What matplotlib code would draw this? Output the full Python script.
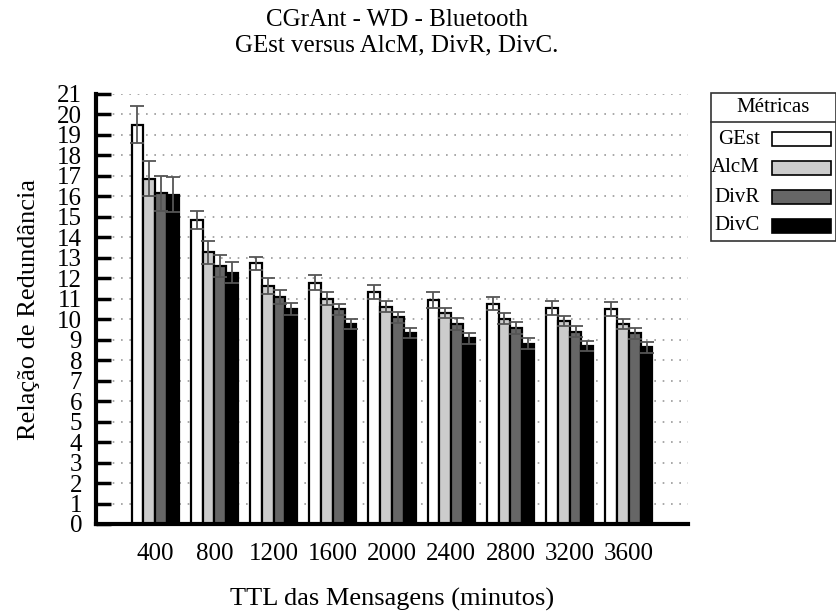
import numpy as np
import matplotlib
matplotlib.use("Agg")
import matplotlib.pyplot as plt
from matplotlib.patches import Rectangle
from matplotlib.lines import Line2D

plt.rcParams['font.family'] = ['Liberation Serif', 'DejaVu Serif']

ttl = ['400', '800', '1200', '1600', '2000', '2400', '2800', '3200', '3600']
metrics = ['GEst', 'AlcM', 'DivR', 'DivC']

gest = [19.50, 14.85, 12.73, 11.78, 11.32, 10.94, 10.76, 10.56, 10.50]
gest_err = [0.90, 0.45, 0.33, 0.37, 0.34, 0.37, 0.32, 0.33, 0.32]
alcm = [16.86, 13.26, 11.62, 11.00, 10.61, 10.30, 10.03, 9.91, 9.77]
alcm_err = [0.85, 0.55, 0.40, 0.32, 0.28, 0.26, 0.27, 0.26, 0.26]
divr = [16.16, 12.60, 11.10, 10.48, 10.09, 9.77, 9.57, 9.40, 9.31]
divr_err = [0.85, 0.55, 0.35, 0.28, 0.28, 0.29, 0.28, 0.26, 0.28]
divc = [16.09, 12.28, 10.51, 9.77, 9.33, 9.07, 8.80, 8.68, 8.62]
divc_err = [0.85, 0.50, 0.30, 0.26, 0.26, 0.26, 0.27, 0.25, 0.26]

series = [gest, alcm, divr, divc]
errors = [gest_err, alcm_err, divr_err, divc_err]
colors = ['white', '#cccccc', '#666666', 'black']

W, H = 837, 615
fig = plt.figure(figsize=(W / 100, H / 100), dpi=100)
ax = fig.add_axes([96 / W, (H - 524) / H, (688 - 96) / W, (524 - 94) / H])

x = np.arange(1, len(ttl) + 1)
bw = 0.2
for i, (vals, errs, c) in enumerate(zip(series, errors, colors)):
    pos = x + (i - 1.5) * bw
    ax.bar(pos, vals, width=bw, color=c, edgecolor='black', linewidth=1.6, zorder=2)
    ax.errorbar(pos, vals, yerr=errs, fmt='none', ecolor='#555555',
                elinewidth=1.3, capsize=5, capthick=1.3, zorder=3)

ax.set_xlim(0, 10)
ax.set_ylim(0, 21)
ax.set_yticks(range(0, 22))
ax.set_xticks(x)
ax.set_xticklabels(ttl)
ax.yaxis.grid(True, linestyle=(0, (1, 4)), color='#999999', linewidth=1.2, zorder=0)
ax.set_axisbelow(True)

for s in ['top', 'right']:
    ax.spines[s].set_visible(False)
ax.spines['left'].set_linewidth(3)
ax.spines['bottom'].set_linewidth(3)
ax.tick_params(axis='y', direction='in', length=11, width=2.5, labelsize=18, pad=10)
ax.tick_params(axis='x', length=0, labelsize=18, pad=14)

ax.set_xlabel('TTL das Mensagens (minutos)', fontsize=19, labelpad=16)
ax.set_ylabel('Relação de Redundância', fontsize=19, labelpad=12)

cx = 397 / W
fig.text(cx, 1 - 20 / H, 'CGrAnt - WD - Bluetooth', ha='center', va='center', fontsize=18)
fig.text(cx, 1 - 45 / H, 'GEst versus AlcM, DivR, DivC.', ha='center', va='center', fontsize=18)

# legend box drawn in figure pixels
def px(xp, yp):
    return xp / W, 1 - yp / H

lx0, lx1, ly0, ly1 = 711, 836, 93, 241
fig.add_artist(Rectangle(px(lx0, ly1), (lx1 - lx0) / W, (ly1 - ly0) / H,
                         transform=fig.transFigure, fill=False, edgecolor='#333333', linewidth=1.2))
fig.add_artist(Line2D([lx0 / W, lx1 / W], [1 - 122 / H, 1 - 122 / H],
                      transform=fig.transFigure, color='#333333', linewidth=1.2))
fig.text(*px((lx0 + lx1) / 2, 108), 'Métricas', ha='center', va='center', fontsize=15)
for name, c, yc in zip(metrics, colors, [139, 168, 197, 226]):
    fig.text(*px(760, yc), name, ha='right', va='center', fontsize=15)
    fig.add_artist(Rectangle(px(772, yc + 7), 59 / W, 14 / H, transform=fig.transFigure,
                             facecolor=c, edgecolor='black', linewidth=1.2))

fig.savefig('out.png', dpi=100)
